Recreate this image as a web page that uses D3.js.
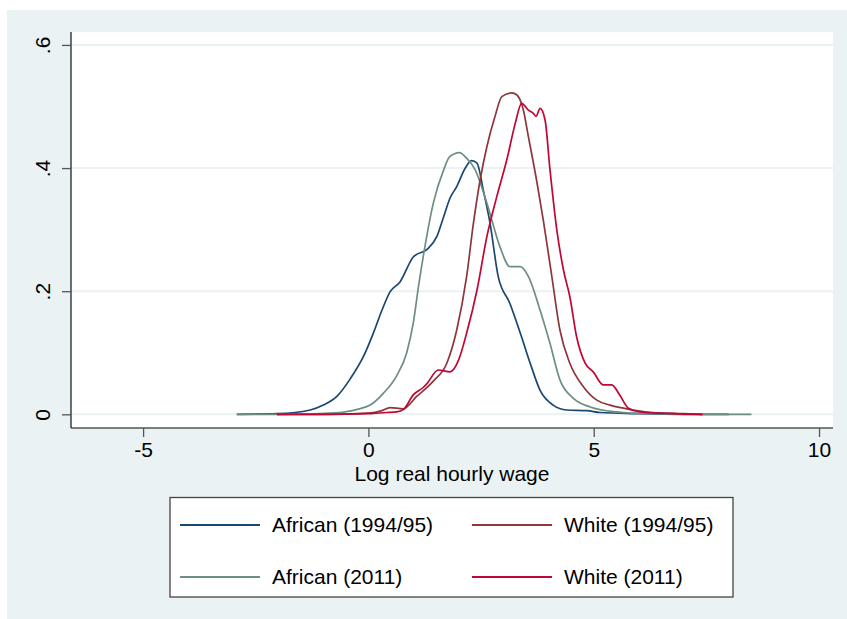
<!DOCTYPE html>
<html>
<head>
<meta charset="utf-8">
<script src="https://cdn.jsdelivr.net/npm/d3@7"></script>
<style>
  body { margin: 0; background: #fff; }
  svg text { font-family: "Liberation Sans", Arial, sans-serif; fill: #000; }
</style>
</head>
<body>
<svg id="chart" width="847" height="619"></svg>
<script>
// series names in legend order
var seriesNames = ["African (1994/95)", "White (1994/95)", "African (2011)", "White (2011)"];
var seriesColors = ["#1a476f", "#90353b", "#6e8e84", "#c10534"];

// African (1994/95)
var african94X = [-2.92, -2.03, -1.29, -1.0, -0.70, -0.40, -0.11, 0.11, 0.30, 0.48, 0.70, 1.0, 1.30, 1.52, 1.67, 1.81, 1.96, 2.15, 2.29, 2.41, 2.55, 2.70, 2.88, 3.14, 3.37, 3.59, 3.81, 4.10, 4.40, 4.85, 5.14, 6.0, 7.0, 8.0];
var african94Y = [0, 0.001, 0.007, 0.015, 0.029, 0.058, 0.094, 0.132, 0.169, 0.199, 0.215, 0.256, 0.268, 0.289, 0.321, 0.351, 0.37, 0.40, 0.412, 0.408, 0.364, 0.31, 0.224, 0.18, 0.132, 0.083, 0.039, 0.015, 0.007, 0.006, 0.003, 0.001, 0, 0];

// White (1994/95)
var white94X = [-2.03, -1.0, 0.0, 0.30, 0.48, 0.77, 1.07, 1.44, 1.74, 1.96, 2.18, 2.33, 2.48, 2.63, 2.81, 2.96, 3.18, 3.29, 3.44, 3.55, 3.73, 3.88, 4.07, 4.25, 4.47, 4.77, 5.07, 5.36, 5.66, 5.95, 6.25, 7.0, 7.4];
var white94Y = [0, 0, 0.002, 0.006, 0.011, 0.009, 0.029, 0.054, 0.083, 0.137, 0.224, 0.31, 0.381, 0.435, 0.484, 0.516, 0.522, 0.519, 0.494, 0.451, 0.381, 0.316, 0.224, 0.137, 0.083, 0.045, 0.023, 0.015, 0.010, 0.006, 0.003, 0.001, 0];

// African (2011)
var african11X = [-2.92, -2.03, -0.63, -0.25, 0.04, 0.33, 0.63, 0.85, 1.0, 1.11, 1.26, 1.44, 1.67, 1.80, 2.02, 2.18, 2.37, 2.63, 2.92, 3.14, 3.37, 3.55, 3.81, 4.03, 4.25, 4.55, 4.92, 5.51, 6.25, 7.5, 8.5];
var african11Y = [0, 0, 0.003, 0.008, 0.015, 0.034, 0.063, 0.100, 0.150, 0.207, 0.275, 0.343, 0.397, 0.418, 0.425, 0.416, 0.397, 0.343, 0.272, 0.24, 0.24, 0.224, 0.169, 0.115, 0.056, 0.026, 0.012, 0.004, 0.001, 0, 0];

// White (2011)
var white11X = [-2.03, -1.0, 0.0, 0.40, 0.63, 0.78, 1.0, 1.22, 1.30, 1.55, 1.81, 2.0, 2.18, 2.41, 2.63, 2.85, 3.07, 3.26, 3.40, 3.55, 3.66, 3.72, 3.81, 3.92, 4.03, 4.18, 4.33, 4.47, 4.62, 4.81, 4.99, 5.21, 5.40, 5.58, 5.77, 6.03, 6.5, 7.42];
var white11Y = [0, 0, 0.001, 0.003, 0.004, 0.008, 0.032, 0.044, 0.050, 0.072, 0.069, 0.088, 0.132, 0.202, 0.289, 0.354, 0.413, 0.473, 0.505, 0.494, 0.489, 0.484, 0.497, 0.478, 0.397, 0.30, 0.234, 0.191, 0.126, 0.083, 0.069, 0.048, 0.048, 0.031, 0.010, 0.004, 0.002, 0];

var xTicks = [-5, 0, 5, 10];
var yTicks = [0, 0.2, 0.4, 0.6];
var yTickLabels = ["0", ".2", ".4", ".6"];

var seriesX = [african94X, white94X, african11X, white11X];
var seriesY = [african94Y, white94Y, african11Y, white11Y];

var svg = d3.select("#chart");
var bg = "#eaf2f3";
var fontSize = "21px";

// outer background
svg.append("rect").attr("x", 7).attr("y", 10).attr("width", 840).attr("height", 609).attr("fill", bg);

var plotLeft = 71, plotRight = 833, plotTop = 32, plotBottom = 428;

var x = d3.scaleLinear().domain([-6.6, 10.31]).range([plotLeft, plotRight]);
var y = d3.scaleLinear().domain([-0.0222, 0.621]).range([plotBottom, plotTop]);

// plot region
svg.append("rect").attr("x", plotLeft).attr("y", plotTop).attr("width", plotRight - plotLeft).attr("height", plotBottom - plotTop).attr("fill", "#fff");

// gridlines
svg.append("g").selectAll("line")
    .data(yTicks).enter()
    .append("line")
    .attr("x1", plotLeft).attr("x2", plotRight)
    .attr("y1", function (d) { return y(d); })
    .attr("y2", function (d) { return y(d); })
    .attr("stroke", bg).attr("stroke-width", 2);

// curves
var line = d3.line()
    .x(function (d) { return x(d[0]); })
    .y(function (d) { return y(d[1]); })
    .curve(d3.curveMonotoneX);

var drawOrder = [0, 2, 1, 3];
drawOrder.forEach(function (i) {
    var pts = seriesX[i].map(function (v, k) { return [v, seriesY[i][k]]; });
    svg.append("path")
        .attr("d", line(pts))
        .attr("fill", "none")
        .attr("stroke", seriesColors[i])
        .attr("stroke-width", 1.7)
        .attr("stroke-linejoin", "round");
});

// x axis
var xAxis = svg.append("g").attr("transform", "translate(0," + plotBottom + ")")
    .call(d3.axisBottom(x).tickValues(xTicks).tickSize(9).tickPadding(5).tickFormat(d3.format("d")));
xAxis.select(".domain").attr("stroke", "#555").attr("stroke-width", 1.5).attr("d", "M" + plotLeft + ",0H" + plotRight);
xAxis.selectAll(".tick line").attr("stroke", "#555").attr("stroke-width", 1.3);
xAxis.selectAll(".tick text").attr("font-size", fontSize).attr("font-family", "Liberation Sans, Arial, sans-serif").attr("fill", "#000")
    .text(function (d) { return d < 0 ? "-" + Math.abs(d) : d; });

// y axis
var yAxis = svg.append("g").attr("transform", "translate(" + plotLeft + ",0)")
    .call(d3.axisLeft(y).tickValues(yTicks).tickSize(9).tickFormat(function (d, i) { return yTickLabels[i]; }));
yAxis.select(".domain").attr("stroke", "#222").attr("stroke-width", 1.3).attr("d", "M0," + plotTop + "V" + plotBottom);
yAxis.selectAll(".tick line").attr("stroke", "#555").attr("stroke-width", 1.3);
yAxis.selectAll(".tick text")
    .attr("font-size", fontSize)
    .attr("font-family", "Liberation Sans, Arial, sans-serif")
    .attr("fill", "#000")
    .attr("text-anchor", "middle")
    .attr("x", null).attr("dy", null)
    .attr("transform", "translate(-21,0) rotate(-90)");

// axis title
svg.append("text")
    .attr("x", (plotLeft + plotRight) / 2).attr("y", 481)
    .attr("text-anchor", "middle")
    .attr("font-size", fontSize)
    .text("Log real hourly wage");

// legend
var legend = svg.append("g");
legend.append("rect").attr("x", 170).attr("y", 497.5).attr("width", 563).attr("height", 99.5)
    .attr("fill", "#fff").attr("stroke", "#444").attr("stroke-width", 1.3);

var legX = [180, 472];
var legY = [525, 577];
var items = legend.selectAll("g.item")
    .data(seriesNames).enter()
    .append("g")
    .attr("class", "item")
    .attr("transform", function (d, i) { return "translate(" + legX[i % 2] + "," + legY[Math.floor(i / 2)] + ")"; });
items.append("line")
    .attr("x1", 0).attr("x2", 80).attr("y1", 0).attr("y2", 0)
    .attr("stroke", function (d, i) { return seriesColors[i]; })
    .attr("stroke-width", 2);
items.append("text")
    .attr("x", 92).attr("y", 7)
    .attr("font-size", fontSize)
    .text(function (d) { return d; });
</script>
</body>
</html>
